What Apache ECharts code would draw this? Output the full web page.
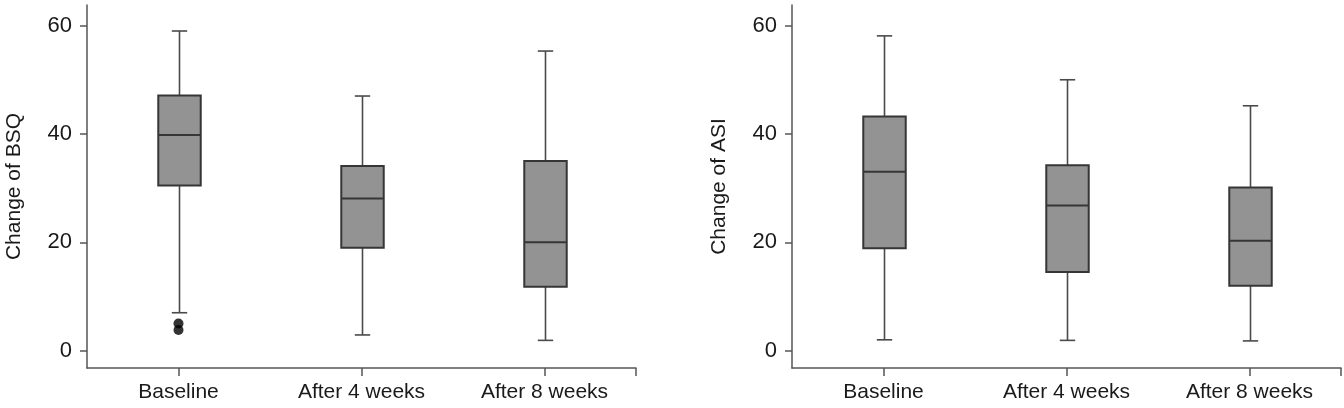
<!DOCTYPE html>
<html>
<head>
<meta charset="utf-8">
<script src="https://cdn.jsdelivr.net/npm/echarts@6/dist/echarts.min.js"></script>
<style>
html,body{margin:0;padding:0;background:#fff;}
#chart{width:1344px;height:408px;}
</style>
</head>
<body>
<div id="chart"></div>
<script>
// ---- data ----
const categories = ['Baseline', 'After 4 weeks', 'After 8 weeks'];
const yTicks = [0, 20, 40, 60];
// [lower whisker, Q1, median, Q3, upper whisker]
const bsqBaseline = [7.0, 30.5, 39.8, 47.1, 59.0];
const bsqWeek4    = [2.9, 19.0, 28.1, 34.1, 47.0];
const bsqWeek8    = [1.9, 11.8, 20.0, 35.0, 55.3];
const bsqOutliers = [5.0, 3.8]; // Baseline outliers
const asiBaseline = [2.0, 18.9, 33.0, 43.2, 58.1];
const asiWeek4    = [1.9, 14.5, 26.8, 34.2, 50.0];
const asiWeek8    = [1.8, 12.0, 20.3, 30.1, 45.2];
const yTitleLeft = 'Change of BSQ';
const yTitleRight = 'Change of ASI';

const FONT = "'Liberation Sans', Arial, Helvetica, sans-serif";
const AXIS_COLOR = '#555';
const TEXT_COLOR = '#1a1a1a';

function boxRows(list) {
  return list.map((v, i) => [i].concat(v));
}

function renderBox(params, api) {
  const x = api.value(0);
  const low = api.coord([x, api.value(1)]);
  const q1 = api.coord([x, api.value(2)]);
  const med = api.coord([x, api.value(3)]);
  const q3 = api.coord([x, api.value(4)]);
  const high = api.coord([x, api.value(5)]);
  const band = api.size([1, 0])[0];
  const bw = band * 0.232;
  const cw = band * 0.084;
  const cx = Math.round(low[0]) + 0.5;
  const wStyle = { stroke: '#4a4a4a', lineWidth: 1.6 };
  return {
    type: 'group',
    children: [
      { type: 'line', shape: { x1: cx, y1: high[1], x2: cx, y2: q3[1] }, style: wStyle },
      { type: 'line', shape: { x1: cx, y1: q1[1], x2: cx, y2: low[1] }, style: wStyle },
      { type: 'line', shape: { x1: cx - cw / 2, y1: high[1], x2: cx + cw / 2, y2: high[1] }, style: wStyle },
      { type: 'line', shape: { x1: cx - cw / 2, y1: low[1], x2: cx + cw / 2, y2: low[1] }, style: wStyle },
      { type: 'rect', shape: { x: cx - bw / 2, y: q3[1], width: bw, height: q1[1] - q3[1] },
        style: { fill: '#939393', stroke: '#363636', lineWidth: 2 } },
      { type: 'line', shape: { x1: cx - bw / 2, y1: med[1], x2: cx + bw / 2, y2: med[1] },
        style: { stroke: '#363636', lineWidth: 2 } }
    ]
  };
}

function yAxis(idx, name) {
  return {
    type: 'value', gridIndex: idx, min: -3.2, max: 63.8,
    name: name, nameLocation: 'middle', nameGap: 62,
    nameTextStyle: { fontSize: 21, color: TEXT_COLOR, fontFamily: FONT },
    axisLine: { show: true, onZero: false, lineStyle: { color: AXIS_COLOR, width: 1.5 } },
    axisTick: { show: true, length: 7, customValues: yTicks, lineStyle: { color: AXIS_COLOR, width: 1.5 } },
    axisLabel: { customValues: yTicks, fontSize: 22, color: TEXT_COLOR, fontFamily: FONT, margin: 15 },
    splitLine: { show: false }
  };
}

function xAxisMain(idx) {
  return {
    type: 'category', gridIndex: idx, data: categories, position: 'bottom', offset: 0,
    boundaryGap: true,
    axisLine: { show: true, onZero: false, lineStyle: { color: AXIS_COLOR, width: 1.5 } },
    axisTick: { show: true, alignWithLabel: true, length: 8, lineStyle: { color: AXIS_COLOR, width: 1.5 } },
    axisLabel: { fontSize: 21, color: TEXT_COLOR, fontFamily: FONT, margin: 14, interval: 0 },
    splitLine: { show: false }
  };
}

function xAxisEnd(idx) {
  return {
    type: 'category', gridIndex: idx, data: ['', '', '', ''], position: 'bottom', offset: 0,
    boundaryGap: false,
    axisLine: { show: false, onZero: false },
    axisTick: { show: true, length: 8, interval: (i) => i === 3, lineStyle: { color: AXIS_COLOR, width: 1.5 } },
    axisLabel: { show: false },
    splitLine: { show: false }
  };
}

const chart = echarts.init(document.getElementById('chart'), null, { renderer: 'canvas' });
chart.setOption({
  animation: false,
  backgroundColor: '#fff',
  grid: [
    { left: 87, top: 5, width: 549, height: 363 },
    { left: 792, top: 5, width: 549, height: 363 }
  ],
  xAxis: [xAxisMain(0), xAxisMain(1), xAxisEnd(0), xAxisEnd(1)],
  yAxis: [yAxis(0, yTitleLeft), yAxis(1, yTitleRight)],
  series: [
    {
      type: 'custom', xAxisIndex: 0, yAxisIndex: 0,
      renderItem: renderBox,
      encode: { x: 0, y: [1, 2, 3, 4, 5] },
      data: boxRows([bsqBaseline, bsqWeek4, bsqWeek8])
    },
    {
      type: 'scatter', xAxisIndex: 0, yAxisIndex: 0,
      symbolSize: 10, itemStyle: { color: '#000' },
      data: bsqOutliers.map(v => [0, v])
    },
    {
      type: 'custom', xAxisIndex: 1, yAxisIndex: 1,
      renderItem: renderBox,
      encode: { x: 0, y: [1, 2, 3, 4, 5] },
      data: boxRows([asiBaseline, asiWeek4, asiWeek8])
    }
  ]
});
</script>
</body>
</html>
